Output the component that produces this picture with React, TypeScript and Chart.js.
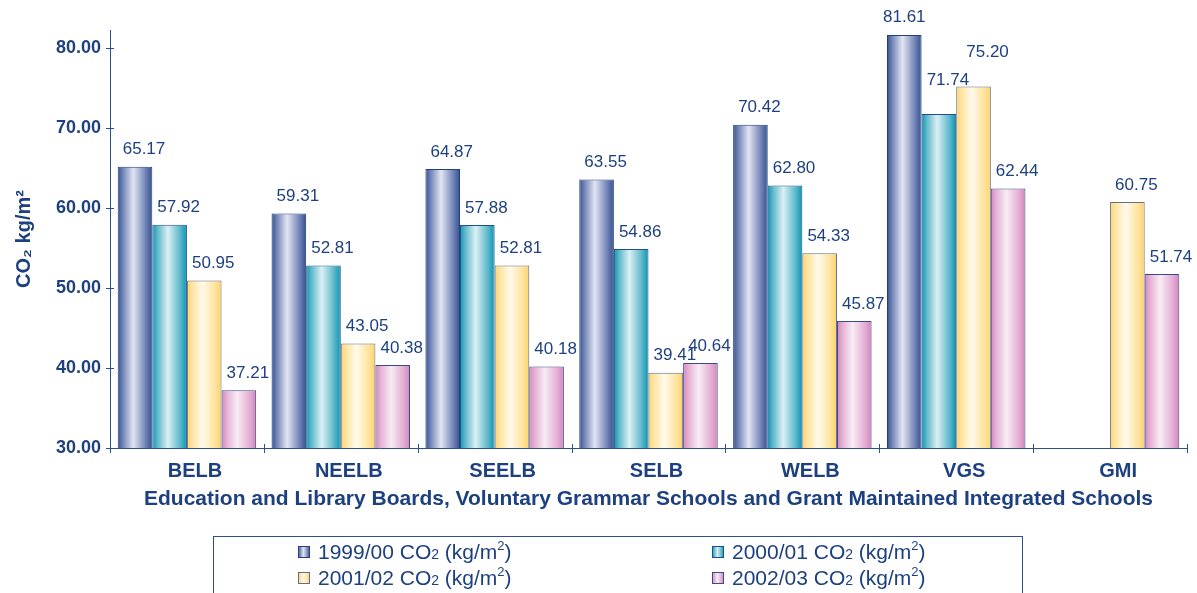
import React, { useEffect, useRef } from "react";
import { Chart, registerables } from "chart.js";

Chart.register(...registerables);

const categories = ["BELB", "NEELB", "SEELB", "SELB", "WELB", "VGS", "GMI"];
const seriesNames = ["1999/00", "2000/01", "2001/02", "2002/03"];
const values1999 = [65.17, 59.31, 64.87, 63.55, 70.42, 81.61, null];
const values2000 = [57.92, 52.81, 57.88, 54.86, 62.8, 71.74, null];
const values2001 = [50.95, 43.05, 52.81, 39.41, 54.33, 75.2, 60.75];
const values2002 = [37.21, 40.38, 40.18, 40.64, 45.87, 62.44, 51.74];
const yMin = 30;
const yMax = 82.25;
const yStep = 10;
const xTitle =
  "Education and Library Boards, Voluntary Grammar Schools and Grant Maintained Integrated Schools";
const yTitle = "CO\u2082 kg/m\u00B2";

const NAVY = "#1d4080";
const FONT = '"Liberation Sans", Arial, sans-serif';

const palettes = [
  { edge: "#34508f", mid: "#7385b8", light: "#e2e5f2", border: "#223f7c" },
  { edge: "#0896b2", mid: "#5fb8cb", light: "#dbf0f4", border: "#1f4f86" },
  { edge: "#ffd26a", mid: "#ffe4a0", light: "#fffaec", border: "#5f7088" },
  { edge: "#d384bd", mid: "#e4b0d4", light: "#f8ecf4", border: "#3c4a8a" },
];

const labelAdjust: Record<string, { dx: number; dy: number }> = {
  "0-5": { dx: 0, dy: -18 },
  "1-5": { dx: 9, dy: -34 },
  "2-5": { dx: 14, dy: -34 },
};

function makeGradient(ctx: CanvasRenderingContext2D, x: number, w: number, p: any) {
  const g = ctx.createLinearGradient(x - w / 2, 0, x + w / 2, 0);
  g.addColorStop(0, p.edge);
  g.addColorStop(0.15, p.mid);
  g.addColorStop(0.45, p.light);
  g.addColorStop(0.8, p.mid);
  g.addColorStop(1, p.edge);
  return g;
}

const gradientPlugin = {
  id: "barGradients",
  beforeDatasetsDraw(chart: any) {
    const ctx = chart.ctx;
    chart.data.datasets.forEach((_ds: any, di: number) => {
      const meta = chart.getDatasetMeta(di);
      meta.data.forEach((bar: any) => {
        const { x, width } = bar.getProps(["x", "width"], true);
        bar.options.backgroundColor = makeGradient(ctx, x, width, palettes[di]);
      });
    });
  },
};

const labelPlugin = {
  id: "valueLabels",
  afterDatasetsDraw(chart: any) {
    const ctx = chart.ctx;
    ctx.save();
    ctx.font = `17px ${FONT}`;
    ctx.fillStyle = NAVY;
    ctx.textAlign = "center";
    ctx.textBaseline = "middle";
    chart.data.datasets.forEach((ds: any, di: number) => {
      const meta = chart.getDatasetMeta(di);
      meta.data.forEach((bar: any, i: number) => {
        const v = ds.data[i];
        if (v === null || v === undefined) return;
        const { x, y } = bar.getProps(["x", "y"], true);
        const adj = labelAdjust[`${di}-${i}`] || { dx: 9, dy: -17 };
        ctx.fillText(v.toFixed(2), x + adj.dx, y + adj.dy);
      });
    });
    ctx.restore();
  },
};

const tickMarkPlugin = {
  id: "crossTicks",
  afterDraw(chart: any) {
    const ctx = chart.ctx;
    const xs = chart.scales.x;
    const ys = chart.scales.y;
    const area = chart.chartArea;
    ctx.save();
    ctx.strokeStyle = "#2a5090";
    ctx.lineWidth = 1;
    ctx.beginPath();
    ys.ticks.forEach((t: any) => {
      const py = Math.round(ys.getPixelForValue(t.value)) + 0.5;
      ctx.moveTo(area.left - 4, py);
      ctx.lineTo(area.left + 4, py);
    });
    const n = categories.length;
    for (let i = 0; i <= n; i++) {
      const px = Math.round(xs.getPixelForValue(i - 0.5)) + 0.5;
      ctx.moveTo(px, area.bottom - 4);
      ctx.lineTo(px, area.bottom + 5);
    }
    ctx.stroke();
    ctx.restore();
  },
};

function drawRich(ctx: CanvasRenderingContext2D, x: number, y: number, parts: any[]) {
  let cx = x;
  parts.forEach((p) => {
    ctx.font = `${p.size}px ${FONT}`;
    ctx.fillText(p.t, cx, y + (p.dy || 0));
    cx += ctx.measureText(p.t).width;
  });
}

const legendPlugin = {
  id: "boxLegend",
  afterDraw(chart: any) {
    const ctx = chart.ctx;
    const bx = 213.5;
    const by = 536.5;
    const bw = 809;
    const bh = 80;
    ctx.save();
    ctx.strokeStyle = "#2a5090";
    ctx.lineWidth = 1;
    ctx.strokeRect(bx, by, bw, bh);
    const cols = [298, 712];
    const rows = [559, 585];
    chart.data.datasets.forEach((ds: any, di: number) => {
      const cx = cols[di % 2];
      const cy = rows[Math.floor(di / 2)];
      const p = palettes[di];
      const g = ctx.createLinearGradient(cx, 0, cx + 12, 0);
      g.addColorStop(0, p.edge);
      g.addColorStop(0.45, p.light);
      g.addColorStop(1, p.edge);
      ctx.fillStyle = g;
      ctx.fillRect(cx, cy - 13, 12, 12);
      ctx.strokeStyle = p.border;
      ctx.strokeRect(cx + 0.5, cy - 12.5, 11, 11);
      ctx.fillStyle = NAVY;
      ctx.textBaseline = "alphabetic";
      ctx.textAlign = "left";
      drawRich(ctx, cx + 20, cy, [
        { t: `${ds.label} CO`, size: 21 },
        { t: "2", size: 14 },
        { t: " (kg/m", size: 21 },
        { t: "2", size: 13, dy: -9 },
        { t: ")", size: 21 },
      ]);
    });
    ctx.restore();
  },
};

export default function App() {
  const ref = useRef<HTMLCanvasElement>(null);
  useEffect(() => {
    if (!ref.current) return;
    const allValues = [values1999, values2000, values2001, values2002];
    const chart = new Chart(ref.current, {
      type: "bar",
      data: {
        labels: categories,
        datasets: allValues.map((vals, i) => ({
          label: seriesNames[i],
          data: vals,
          backgroundColor: () => palettes[i].edge,
          borderColor: palettes[i].border,
          borderWidth: 1,
          borderSkipped: false,
          categoryPercentage: 0.9,
          barPercentage: 1.0,
        })),
      },
      options: {
        animation: false,
        responsive: true,
        maintainAspectRatio: false,
        layout: { padding: { left: 0, top: 30, right: 10, bottom: 78 } },
        plugins: {
          legend: { display: false },
          tooltip: { enabled: false },
        },
        scales: {
          x: {
            offset: true,
            grid: { display: false },
            border: { display: true, color: "#2a5090", width: 1 },
            ticks: {
              color: NAVY,
              font: { family: FONT, size: 20, weight: "bold" },
              padding: 3,
              labelOffset: 8,
              maxRotation: 0,
            },
            title: {
              display: true,
              text: xTitle,
              color: NAVY,
              font: { family: FONT, size: 21, weight: "bold" },
              padding: { top: 0, bottom: 3 },
            },
            afterFit: (s: any) => {
              s.height = 67;
            },
          },
          y: {
            min: yMin,
            max: yMax,
            grid: { display: false },
            border: { display: true, color: "#2a5090", width: 1 },
            ticks: {
              stepSize: yStep,
              includeBounds: false,
              color: NAVY,
              font: { family: FONT, size: 18, weight: "bold" },
              padding: 1,
              callback: (v: any) => Number(v).toFixed(2),
            },
            title: {
              display: true,
              text: yTitle,
              color: NAVY,
              font: { family: FONT, size: 20, weight: "bold" },
              padding: { top: 12, bottom: 0 },
            },
            afterFit: (s: any) => {
              s.width = 110;
            },
          },
        },
      },
      plugins: [gradientPlugin, labelPlugin, tickMarkPlugin, legendPlugin],
    });
    return () => chart.destroy();
  }, []);
  return (
    <div style={{ position: "fixed", left: 0, top: 0, width: 1197, height: 593, background: "#fff" }}>
      <canvas ref={ref} />
    </div>
  );
}
